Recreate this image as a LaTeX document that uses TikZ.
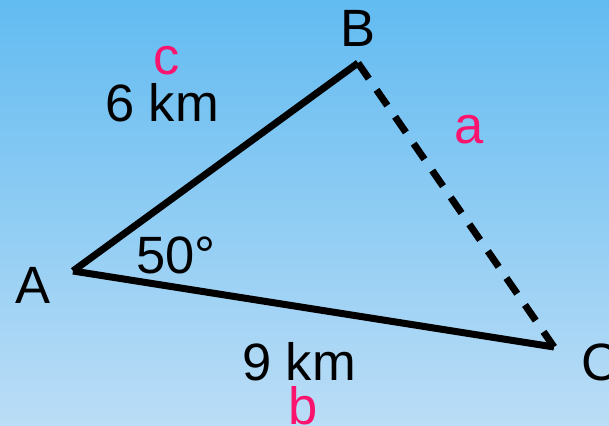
\documentclass[tikz,border=0pt]{standalone}
\usepackage{fontspec}
\setmainfont{Liberation Sans}
\definecolor{skytop}{RGB}{98,187,241}
\definecolor{skybot}{RGB}{187,221,246}
\definecolor{lbl}{RGB}{250,20,110}
\begin{document}
\begin{tikzpicture}[x=1pt,y=-1pt,
  txt/.style={anchor=base,inner sep=0pt,font=\fontsize{52.5}{60}\selectfont},
  sidelbl/.style={txt,text=lbl},
  side/.style={line width=7pt,line cap=butt,black},
  dside/.style={side,dash pattern=on 19pt off 13.66pt}]
\shade[top color=skytop,bottom color=skybot] (0,0) rectangle (609,425);
\useasboundingbox (0,0) rectangle (609,425);
\coordinate (A) at (73,271);
\coordinate (B) at (358,63);
\coordinate (C) at (554,347);
\draw[side] (A) -- (B);
\draw[side] (A) -- (C);
\draw[dside] (B) -- (C);
\node[txt] (lA) at (33,303) {A};
\node[txt] (lB) at (358,47) {B};
\node[txt] (lC) at (600,380) {C};
\node[sidelbl] (la) at (469,143) {a};
\node[sidelbl] (lb) at (303,424) {b};
\node[sidelbl] (lc) at (167,75) {c};
\node[txt] (d6) at (162,121) {6 km};
\node[txt] (d9) at (299,380) {9 km};
\node[txt] (ang) at (176,273) {50°};
\end{tikzpicture}
\end{document}
